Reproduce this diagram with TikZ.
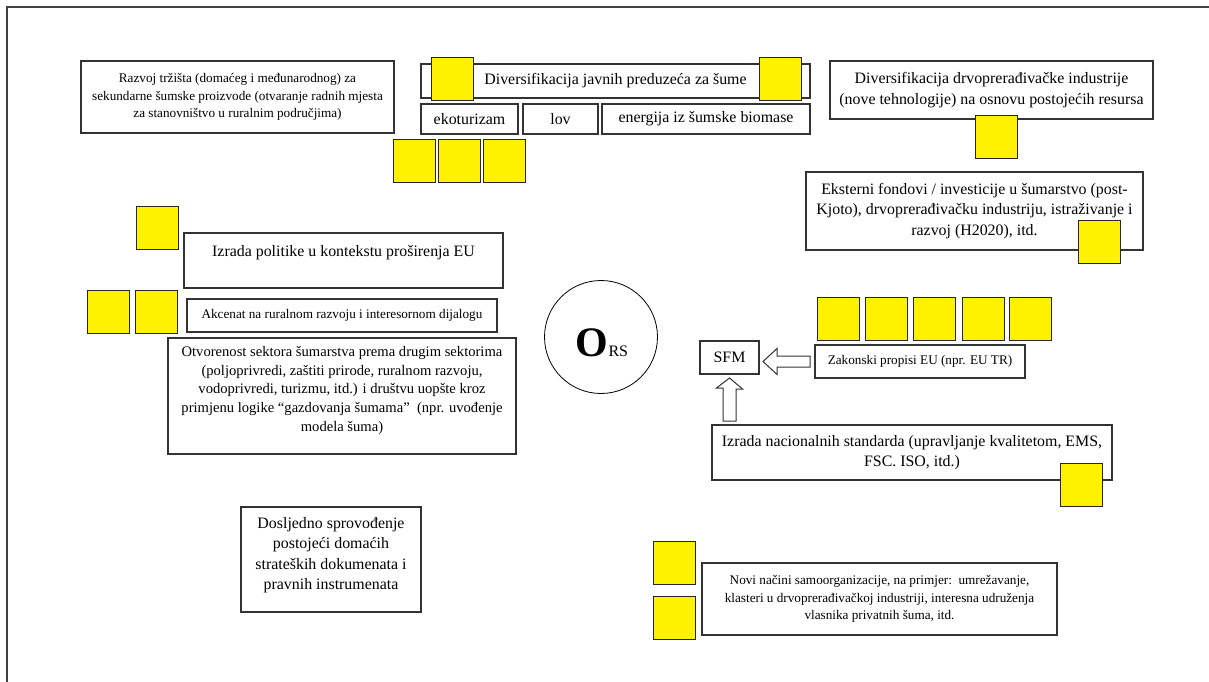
\documentclass[tikz,border=0pt]{standalone}
\usepackage{fontspec}
\setmainfont{Liberation Serif}
\usetikzlibrary{calc}
\usetikzlibrary{positioning}

\begin{document}
\begin{tikzpicture}[x=1pt, y=-1pt, font=\fontsize{15.9}{20.5}\selectfont]
	\tikzstyle{box}=[draw=black!80, line width=1.2pt, fill=white, rectangle, inner sep=0pt, outer sep=0pt, align=center, anchor=north west]
	\tikzstyle{sq}=[draw=black!85, line width=1.2pt, fill=yellow, rectangle, minimum width=42pt, minimum height=43pt, inner sep=0pt, anchor=north west]
	\tikzstyle{small}=[font=\fontsize{13.2}{17.4}\selectfont]
	\tikzstyle{txt}=[inner sep=0pt, align=center]
	\tikzstyle{hollow}=[draw=black!80, line width=1pt, fill=white, line join=miter]

	\useasboundingbox (0,0) rectangle (1209,682);
	\draw[black!75, line width=2pt] (7,682) -- (7,7) -- (1209,7);

	% upper part
	\node[box, small, minimum width=313pt, minimum height=72pt] (raz) at (81,61) {Razvoj tržišta (domaćeg i međunarodnog) za\\sekundarne šumske proizvode (otvaranje radnih mjesta\\za stanovništvo u ruralnim područjima)};
	\node[box, minimum width=389pt, minimum height=34pt] (jp) at (421,64) {Diversifikacija javnih preduzeća za šume};
	\node[box, minimum width=97pt, minimum height=30pt, below right=6pt and 0pt of jp.south west] (eko) {ekoturizam};
	\node[box, minimum width=75pt, minimum height=30pt, right=5pt of eko] (lov) {lov};
	\node[box, minimum width=208pt, minimum height=30pt, right=4pt of lov] (bio) {energija iz šumske biomase};
	\node[box, minimum width=323pt, minimum height=58pt] (drv) at (830,61) {Diversifikacija drvoprerađivačke industrije\\(nove tehnologije) na osnovu postojećih resursa};
	\node[box, minimum width=337pt, minimum height=78pt] (eks) at (806,172) {Eksterni fondovi / investicije u šumarstvo (post-\\Kjoto), drvoprerađivačku industriju, istraživanje i\\razvoj (H2020), itd.};

	% left part
	\node[box, minimum width=319pt, minimum height=55pt] (pol) at (184,233) {};
	\node[txt, below=12pt of pol.north] (poltx) {Izrada politike u kontekstu proširenja EU};
	\node[box, small, minimum width=310pt, minimum height=33pt] (akc) at (187,299) {Akcenat na ruralnom razvoju i interesornom dijalogu};
	\node[box, minimum width=348pt, minimum height=116pt] (otv) at (168,338) {};
	\node[txt, below=8pt of otv.north, font=\fontsize{14.6}{18.8}\selectfont] (otvtx) {Otvorenost sektora šumarstva prema drugim sektorima\\(poljoprivredi, zaštiti prirode, ruralnom razvoju,\\vodoprivredi, turizmu, itd.) i društvu uopšte kroz\\primjenu logike “gazdovanja šumama”\ \ (npr. uvođenje\\modela šuma)};
	\node[box, minimum width=180pt, minimum height=105pt] (dos) at (241,507) {};
	\node[txt, below=10pt of dos.north] (dostx) {Dosljedno sprovođenje\\postojeći domaćih\\strateških dokumenata i\\pravnih instrumenata};

	% centre
	\node[circle, draw=black, line width=0.8pt, minimum size=113pt, inner sep=0pt] (ors) at (601,337) {};
	\node[txt] (orstx) at ($(ors.center)+(1,6)$) {{\fontsize{42}{42}\selectfont\bfseries O}{\fontsize{16}{16}\selectfont RS}};

	% right part
	\node[box, minimum width=59pt, minimum height=33pt] (sfm) at (700,341) {SFM};
	\node[box, small, minimum width=210pt, minimum height=33pt] (zak) at (815,345) {Zakonski propisi EU (npr. EU TR)};
	\node[box, minimum width=400pt, minimum height=55pt] (nac) at (712,425) {Izrada nacionalnih standarda (upravljanje kvalitetom, EMS,\\FSC. ISO, itd.)};
	\node[box, small, minimum width=355pt, minimum height=72pt] (nov) at (702,563) {Novi načini samoorganizacije, na primjer:\ \ umrežavanje,\\klasteri u drvoprerađivačkoj industriji, interesna udruženja\\vlasnika privatnih šuma, itd.};

	% hollow arrows into SFM
	\draw[hollow] ($(sfm.east |- zak.west)+(4,0)$) -- ++(14,-13) -- ++(0,7.5) -- ($(zak.west)+(-5,-5.5)$) -- ++(0,11) -- ++(-33,0) -- ++(0,7.5) -- cycle;
	\draw[hollow] ($(sfm.south)+(0,4)$) -- ++(13,11) -- ++(-6.5,0) -- ($(sfm.south |- nac.north)+(6.5,-4)$) -- ++(-13,0) -- ++(0,-33) -- ++(-6.5,0) -- cycle;

	% yellow squares
	\foreach \px/\py [count=\i] in {431/57, 759/57, 393/139, 438/139, 483/139, 975/115, 1078/220, 136/206, 87/290, 135/290, 817/297, 865/297, 913/297, 962/297, 1009/297, 1060/463, 653/541, 653/596}
		\node[sq] (y\i) at (\px,\py) {};
\end{tikzpicture}
\end{document}
